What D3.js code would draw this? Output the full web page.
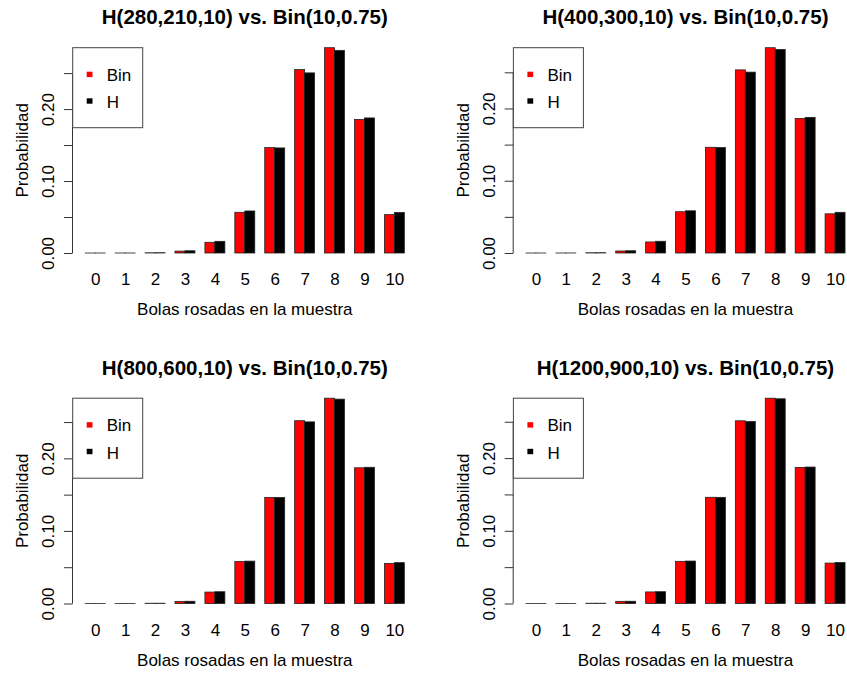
<!DOCTYPE html>
<html>
<head>
<meta charset="utf-8">
<script src="https://cdn.jsdelivr.net/npm/d3@7"></script>
<style>
  html, body { margin: 0; padding: 0; background: #fff; }
  svg { display: block; font-family: "Liberation Sans", Arial, Helvetica, sans-serif; }
</style>
</head>
<body>
<svg id="chart" width="847" height="673"></svg>
<script>
// ---- data ----
const categories = ["0","1","2","3","4","5","6","7","8","9","10"];
const panelTitles = [
  "H(280,210,10) vs. Bin(10,0.75)",
  "H(400,300,10) vs. Bin(10,0.75)",
  "H(800,600,10) vs. Bin(10,0.75)",
  "H(1200,900,10) vs. Bin(10,0.75)"
];
// red bars (legend "Bin"), one array per panel
const redPanel1 = [5.7e-7, 1.97e-5, 0.000299, 0.00263, 0.01488, 0.0566, 0.1465, 0.2549, 0.2853, 0.1856, 0.0533];
const redPanel2 = [6.7e-7, 2.21e-5, 0.000323, 0.00276, 0.01528, 0.0571, 0.1463, 0.2534, 0.2841, 0.1862, 0.0542];
const redPanel3 = [8.0e-7, 2.52e-5, 0.000354, 0.00293, 0.01576, 0.0578, 0.1462, 0.2519, 0.2829, 0.1870, 0.0553];
const redPanel4 = [8.5e-7, 2.63e-5, 0.000365, 0.00298, 0.01591, 0.0580, 0.1461, 0.2513, 0.2824, 0.1872, 0.0556];
// black bars (legend "H"), same in every panel
const blackValues = [9.5e-7, 2.86e-5, 0.000386, 0.00309, 0.01622, 0.0584, 0.1460, 0.2503, 0.2816, 0.1877, 0.0563];
const yTicks = [0, 0.05, 0.10, 0.15, 0.20, 0.25];
const yLabeledTicks = [0, 0.10, 0.20];
const legendLabels = ["Bin", "H"];
const seriesColors = ["#ff0000", "#000000"];
const xTitle = "Bolas rosadas en la muestra";
const yTitle = "Probabilidad";

// ---- layout ----
const redSeries = [redPanel1, redPanel2, redPanel3, redPanel4];
const panelOffsets = [[0, 0], [440.7, 0], [0, 350.5], [440.7, 350.5]];
const plotLeft = 72.5, plotRight = 417.1, plotTop = 47.7, plotBottom = 253;

const svg = d3.select("#chart");
svg.append("rect").attr("width", 847).attr("height", 673).attr("fill", "#fff");

redSeries.forEach((red, p) => {
  const [dx, dy] = panelOffsets[p];
  const g = svg.append("g").attr("transform", `translate(${dx},${dy})`);
  const maxV = d3.max(red.concat(blackValues));
  const x = d3.scaleLinear().domain([-0.28, 34.28]).range([plotLeft, plotRight]);
  const y = d3.scaleLinear().domain([0, maxV]).range([plotBottom, plotTop]);

  // bars
  const rows = [red, blackValues];
  rows.forEach((vals, s) => {
    g.append("g").selectAll("rect").data(vals).join("rect")
      .attr("x", (d, i) => x(1 + 3 * i + s))
      .attr("width", (d, i) => x(2 + 3 * i + s) - x(1 + 3 * i + s))
      .attr("y", d => y(d))
      .attr("height", d => Math.max(y(0) - y(d), 0.01))
      .attr("fill", seriesColors[s])
      .attr("stroke", "#222")
      .attr("stroke-width", 0.8);
  });

  // x axis labels (no line)
  const xa = g.append("g").attr("transform", `translate(0,${plotBottom})`)
    .call(d3.axisBottom(x).tickValues(categories.map((c, i) => 2 + 3 * i))
      .tickFormat((d, i) => categories[i]).tickSize(0));
  xa.select(".domain").remove();
  xa.selectAll("text").attr("y", 32).attr("dy", 0)
    .attr("font-size", 17).attr("font-family", null).attr("fill", "#000");

  // y axis
  const ya = g.append("g").attr("transform", `translate(${plotLeft},0)`)
    .call(d3.axisLeft(y).tickValues(yTicks).tickSize(8.5)
      .tickFormat(d => yLabeledTicks.some(v => Math.abs(v - d) < 1e-9) ? d3.format(".2f")(d) : ""));
  ya.select(".domain").remove();
  ya.append("line").attr("x1", 0).attr("x2", 0)
    .attr("y1", y(yTicks[0])).attr("y2", y(yTicks[yTicks.length - 1]))
    .attr("stroke", "#333");
  ya.selectAll(".tick line").attr("stroke", "#333");
  ya.selectAll("text")
    .attr("transform", "rotate(-90)")
    .attr("x", 0).attr("y", -18.5).attr("dy", 0)
    .attr("text-anchor", "middle")
    .attr("font-size", 17).attr("font-family", null).attr("fill", "#000");

  // titles
  g.append("text").attr("x", (plotLeft + plotRight) / 2).attr("y", 24)
    .attr("text-anchor", "middle").attr("font-weight", "bold").attr("font-size", 20.5)
    .text(panelTitles[p]);
  g.append("text").attr("x", (plotLeft + plotRight) / 2).attr("y", 315)
    .attr("text-anchor", "middle").attr("font-size", 17).text(xTitle);
  g.append("text")
    .attr("transform", `translate(28,${(plotTop + plotBottom) / 2}) rotate(-90)`)
    .attr("text-anchor", "middle").attr("font-size", 17).text(yTitle);

  // legend
  const lg = g.append("g");
  lg.append("rect").attr("x", 72.7).attr("y", 47.7).attr("width", 70).attr("height", 80)
    .attr("fill", "#fff").attr("stroke", "#444").attr("stroke-width", 1);
  legendLabels.forEach((lab, k) => {
    lg.append("rect").attr("x", 86.7).attr("y", 71.7 + k * 26.6).attr("width", 5.8).attr("height", 5.4)
      .attr("fill", seriesColors[k]);
    lg.append("text").attr("x", 106.7).attr("y", 80.7 + k * 27.6)
      .attr("font-size", 17).text(lab);
  });
});
</script>
</body>
</html>
